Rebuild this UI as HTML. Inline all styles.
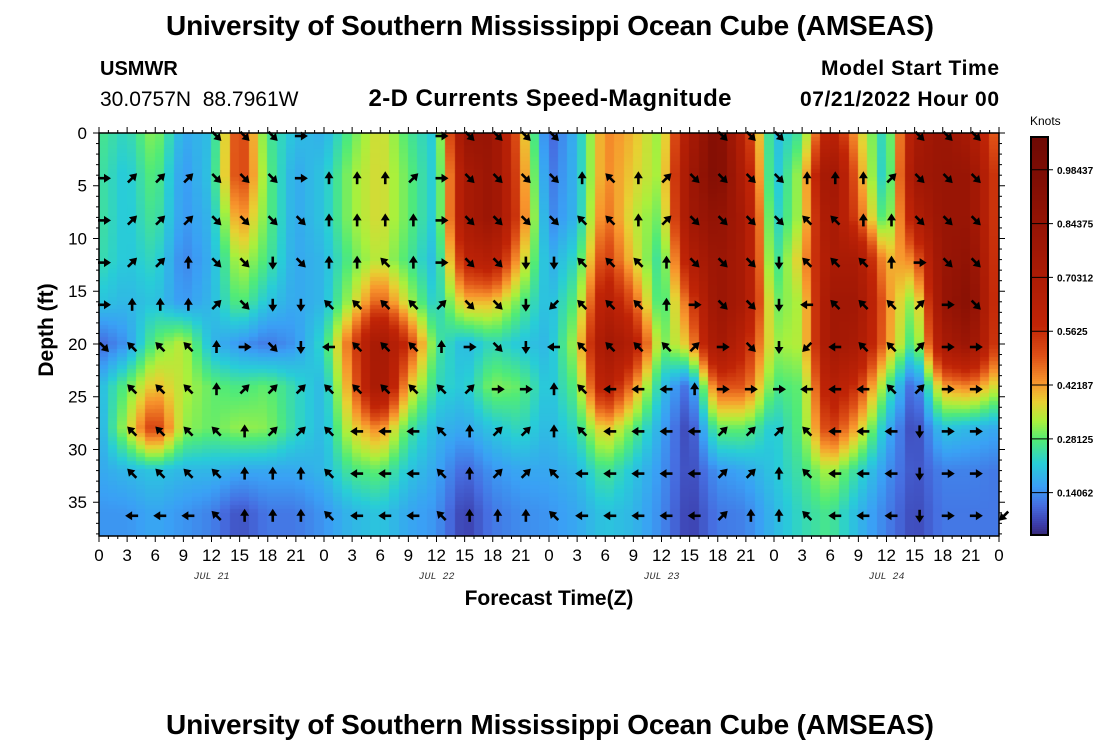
<!DOCTYPE html>
<html><head><meta charset="utf-8"><style>
body{margin:0;background:#fff;width:1100px;height:750px;overflow:hidden;font-family:"Liberation Sans",sans-serif}
svg{position:absolute;left:0;top:0}
canvas{position:absolute;left:99px;top:133px}
</style></head><body>
<canvas id="hm" width="900" height="403"></canvas>
<svg id="s" width="1100" height="750">
<text x="550" y="35" text-anchor="middle" font-size="28" font-weight="bold" textLength="768">University of Southern Mississippi Ocean Cube (AMSEAS)</text>
<text x="100" y="75" font-size="20" font-weight="bold">USMWR</text>
<text x="100" y="106" font-size="21" xml:space="preserve">30.0757N  88.7961W</text>
<text x="550" y="106" text-anchor="middle" font-size="24" font-weight="bold" textLength="363">2-D Currents Speed-Magnitude</text>
<text x="999" y="75" text-anchor="end" font-size="21" font-weight="bold" textLength="178">Model Start Time</text>
<text x="999" y="106" text-anchor="end" font-size="21" font-weight="bold" textLength="199">07/21/2022 Hour 00</text>
<text transform="translate(53,330) rotate(-90)" text-anchor="middle" font-size="21" font-weight="bold">Depth (ft)</text>
<text x="549" y="605" text-anchor="middle" font-size="21" font-weight="bold">Forecast Time(Z)</text>
<text x="550" y="734" text-anchor="middle" font-size="28" font-weight="bold" textLength="768">University of Southern Mississippi Ocean Cube (AMSEAS)</text>
<text x="1030" y="125" font-size="12">Knots</text>
<g id="g"></g>
</svg>
<script>
const hours=[0,3,6,9,12,15,18,21,24,27,30,33,36,39,42,45,48,51,54,57,60,63,66,69,72,75,78,81,84,87,90,93,96];
const depths=[0,4,8,12,16,20,24,28,32,36];
const speed0=[.27,.23,.32,.17,.2,.55,.27,.2,.18,.29,.37,.27,.21,.82,.82,.45,.09,.19,.45,.4,.31,.72,.97,.6,.19,.27,.66,.4,.21,.72,.82,.72,.45];
const speed4=[.26,.21,.29,.15,.21,.55,.29,.17,.21,.32,.37,.29,.21,.72,.82,.48,.11,.19,.45,.38,.32,.77,.97,.66,.19,.34,.82,.45,.19,.77,.82,.82,.5];
const speed8=[.26,.21,.27,.15,.19,.45,.29,.17,.21,.32,.37,.29,.21,.72,.82,.5,.13,.19,.48,.35,.29,.77,.87,.72,.21,.34,.77,.5,.24,.66,.82,.82,.5];
const speed12=[.25,.21,.24,.13,.18,.35,.27,.17,.19,.29,.35,.27,.19,.6,.66,.4,.17,.24,.55,.38,.24,.66,.82,.72,.24,.4,.72,.72,.4,.45,.82,.87,.5];
const speed16=[.21,.19,.21,.15,.19,.29,.21,.17,.19,.34,.5,.34,.21,.4,.4,.29,.19,.29,.66,.5,.24,.5,.82,.72,.29,.34,.77,.77,.45,.29,.82,.92,.5];
const speed20=[.1,.15,.29,.35,.19,.15,.12,.15,.24,.5,.77,.55,.27,.19,.24,.21,.19,.34,.77,.66,.29,.4,.77,.6,.32,.34,.77,.72,.45,.24,.72,.82,.5];
const speed24=[.19,.29,.4,.34,.29,.27,.29,.24,.19,.45,.77,.4,.24,.21,.31,.29,.2,.29,.66,.45,.21,.1,.5,.5,.27,.29,.66,.55,.29,.08,.42,.45,.35];
const speed28=[.17,.34,.55,.32,.29,.32,.31,.24,.19,.37,.45,.27,.19,.17,.21,.24,.19,.24,.4,.29,.17,.06,.29,.29,.21,.29,.55,.4,.19,.06,.21,.19,.17];
const speed32=[.17,.19,.21,.19,.19,.17,.17,.17,.19,.27,.29,.21,.17,.1,.15,.17,.17,.19,.27,.21,.15,.07,.15,.17,.21,.26,.34,.24,.15,.08,.13,.13,.12];
const speed36=[.15,.15,.17,.15,.13,.08,.12,.12,.15,.19,.21,.17,.15,.06,.12,.14,.15,.17,.21,.19,.14,.06,.12,.13,.19,.24,.27,.19,.13,.07,.12,.12,.12];
const speeds=[speed0,speed4,speed8,speed12,speed16,speed20,speed24,speed28,speed32,speed36];
const dir0 =". . . . SE SE SE E . . . . E SE SE SE SE . . . . . SE SE SE . . . . SE SE SE .".split(' ');
const dir4 ="E NE NE NE SE SE SE E N N N NE E SE SE SE SE N NW N NE SE SE SE SE N N N NE SE SE SE .".split(' ');
const dir8 ="E NE NE NE SE SE SE SE N N N N E SE SE SE SE NW NW N NE SE SE SE SE NW NW N N SE SE SE .".split(' ');
const dir12="E NE NE N SE SE S SE N N NW N E SE SE S S NW NW NW N SE SE SE S NW NW NW N E SE SE .".split(' ');
const dir16="E N N N NE SE S S NW NW NW NW NE SE SE S SW NW NW NW N E SE SE S W NW NW NW NE E SE .".split(' ');
const dir20="SE NW NW NW N E SE S W NW NW NW N E SE S W NW NW NW NW NE E SE S SW W NW NW NE E E .".split(' ');
const dir24=". NW NW NW N NE NE NE NW NW NW NW NW NE E E N NW W W W N E E E W W W NW NE E E .".split(' ');
const dir28=". NW NW NW NW N NE NE NW W W W NW N NE NE N NW W W W W NE NE NE NW W W W S E E .".split(' ');
const dir32=". NW NW NW NW N N N NW W W W NW N NE NE NW W W W W W NE NE N NW W W W S E E .".split(' ');
const dir36=". W W W NW N N N NW W W W NW N N N NW W W W W W NE N N NW W W W S E E SW".split(' ');
const dirs=[dir0,dir4,dir8,dir12,dir16,dir20,dir24,dir28,dir32,dir36];
const cbTicks=[0.14062,0.28125,0.42187,0.5625,0.70312,0.84375,0.98437];
const cbLabels=["0.14062","0.28125","0.42187","0.5625","0.70312","0.84375","0.98437"];
const xLabels=["0","3","6","9","12","15","18","21"];
const dateLabels=["JUL 21","JUL 22","JUL 23","JUL 24"];
const yTicks=[0,5,10,15,20,25,30,35];

const X0=99,PW=900,Y0=133,PH=403,HMAX=96,DMAX=38.2;
const xs=h=>X0+h/HMAX*PW, ys=d=>Y0+d/DMAX*PH;
const stops=[[0,[48,18,59]],[0.06,[60,60,170]],[0.11,[70,110,225]],[0.16,[58,160,245]],[0.22,[40,205,215]],[0.28,[80,235,120]],[0.33,[170,240,60]],[0.38,[232,208,50]],[0.43,[248,150,45]],[0.5,[222,80,22]],[0.58,[192,36,6]],[0.75,[165,25,5]],[0.95,[130,14,4]],[1.1,[105,8,4]]];
function col(v){for(let i=1;i<stops.length;i++){if(v<=stops[i][0]){const a=stops[i-1],b=stops[i],t=(v-a[0])/(b[0]-a[0]);return a[1].map((c,k)=>Math.round(c+(b[1][k]-c)*t));}}return stops[stops.length-1][1];}
function sample(h,d){let fi=h/3;let i=Math.min(Math.floor(fi),hours.length-2);let tx=Math.min(fi-i,1);let fj=Math.min(d/4,depths.length-1);let j=Math.min(Math.floor(fj),depths.length-2);let ty=Math.min(fj-j,1);
const a=speeds[j][i],b=speeds[j][i+1],c=speeds[j+1][i],e=speeds[j+1][i+1];return (a*(1-tx)+b*tx)*(1-ty)+(c*(1-tx)+e*tx)*ty;}
const ctx=document.getElementById('hm').getContext('2d');
const bw=900/96, bh=4;
for(let px=0;px<900;px+=bw){for(let py=0;py<PH;py+=bh){const h=(px+bw/2)/PW*HMAX,d=(py+bh/2)/PH*DMAX;const c=col(sample(h,d));ctx.fillStyle=`rgb(${c[0]},${c[1]},${c[2]})`;ctx.fillRect(Math.floor(px),py,Math.ceil(bw)+1,bh);}}
const NS='http://www.w3.org/2000/svg',g=document.getElementById('g');
function el(t,a,p){const e=document.createElementNS(NS,t);for(const k in a)e.setAttribute(k,a[k]);(p||g).appendChild(e);return e;}
const ang={E:0,NE:-45,N:-90,NW:-135,W:180,SW:135,S:90,SE:45};
dirs.forEach((row,j)=>row.forEach((dd,i)=>{if(dd==='.'||!dd)return;const x=xs(hours[i])+5,y=ys(depths[j])+3;
const a=el('g',{transform:`translate(${x},${y}) rotate(${ang[dd]})`});
el('line',{x1:-6,y1:0,x2:2,y2:0,stroke:'#000','stroke-width':2.6},a);
el('path',{d:'M7,0 L0,-4.5 L0,4.5 Z',fill:'#000'},a);

}));
const fr=el('rect',{x:X0,y:Y0,width:PW,height:PH,fill:'none',stroke:'#000','stroke-width':1.5});


for(let h=0;h<=96;h++){const x=xs(h),L=h%3===0?6:3;el('line',{x1:x,x2:x,y1:Y0,y2:Y0-L,stroke:'#000'});el('line',{x1:x,x2:x,y1:Y0+PH,y2:Y0+PH+L,stroke:'#000'});}
for(let d=0;d<=38;d++){const y=ys(d),L=d%5===0?6:3;el('line',{x1:X0,x2:X0-L,y1:y,y2:y,stroke:'#000'});el('line',{x1:X0+PW,x2:X0+PW+L,y1:y,y2:y,stroke:'#000'});}
hours.forEach((h,i)=>{const t=el('text',{x:xs(h),y:561,'text-anchor':'middle','font-size':17});t.textContent=xLabels[i%8];

});
dateLabels.forEach((s,i)=>{const t=el('text',{x:xs(12+24*i),y:579,'text-anchor':'middle','font-size':10,'font-style':'italic','font-family':'Liberation Mono',fill:'#333'});t.textContent=s;

});
yTicks.forEach(d=>{const t=el('text',{x:87,y:ys(d)+6,'text-anchor':'end','font-size':17});t.textContent=d;

});
const CX=1031,CW=17,CT=137,CB=535,VMAX=1.07,VMIN=0.03;
const cy=v=>CB-(v-VMIN)/(VMAX-VMIN)*(CB-CT);
for(let y=CT;y<CB;y+=2){const v=VMIN+(CB-y)/(CB-CT)*(VMAX-VMIN);const c=col(v);el('rect',{x:CX,y:y,width:CW,height:2.5,fill:`rgb(${c[0]},${c[1]},${c[2]})`});}
const cbr=el('rect',{x:CX,y:CT,width:CW,height:CB-CT,fill:'none',stroke:'#000','stroke-width':2});


cbTicks.forEach((v,i)=>{const y=cy(v);el('line',{x1:CX,x2:CX+CW+5,y1:y,y2:y,stroke:'#000'});const t=el('text',{x:1057,y:y+4,'font-size':10,'font-weight':'bold'});t.textContent=cbLabels[i];

});
</script>
</body></html>
